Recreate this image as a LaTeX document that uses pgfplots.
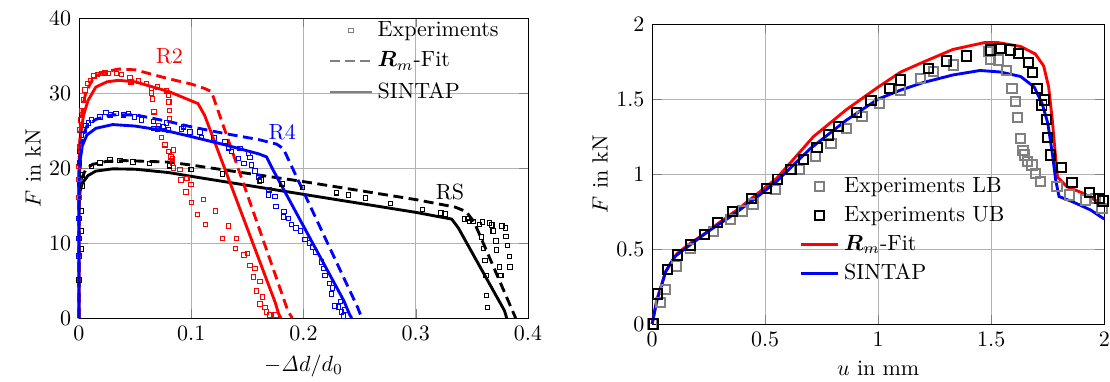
\documentclass[border=0pt]{standalone}
\usepackage{pgfplots}
\pgfplotsset{compat=1.18}
\usepackage{amsmath}
\usepackage{bm}
\begin{document}
\begin{tikzpicture}
\path[use as bounding box] (0,0) rectangle (504.5pt,173.2pt);
\begin{axis}[
  at={(35.9pt,28.6pt)}, anchor=south west,
  width=204.1pt, height=136.4pt, scale only axis,
  xmin=0, xmax=0.4, ymin=0, ymax=40,
  xtick={0,0.1,0.2,0.3,0.4}, ytick={0,10,20,30,40},
  grid=major, major grid style={black!30},
  xlabel={$-\mathit{\Delta} d/d_0$}, ylabel={$F$ in kN},
  ylabel shift=-3pt,
  clip=false,
  legend cell align=left,
  legend image code/.code={\draw[#1] (0cm,0cm) -- (0.68cm,0cm);},
  legend style={draw=none, fill=none, row sep=1.6pt, at={(0.96,1.02)}, anchor=north east},
]
\addlegendimage{only marks, mark=square, gray, mark size=1pt, legend image code/.code={\draw[only marks, mark=square, gray, mark size=1pt] plot coordinates {(0.34cm,0cm)};}}
\addlegendentry{Experiments}
\addlegendimage{gray, line width=1pt, dash pattern=on 4.5pt off 2.5pt}
\addlegendentry{$\bm{R}_m$-Fit}
\addlegendimage{gray, line width=1pt}
\addlegendentry{SINTAP}
% black RS
\addplot[forget plot, black, line width=1.3pt, dash pattern=on 4.5pt off 2.5pt] coordinates {
(0,0) (0,16) (0.002,18.5) (0.006,19.8) (0.012,20.5) (0.025,20.9) (0.04,21.0) (0.06,20.9) (0.08,20.8) (0.1,20.4) (0.15,19.3) (0.2,18.2) (0.25,17.0) (0.3,15.8) (0.335,14.8) (0.345,14.2) (0.352,12.8) (0.389,0)};
\addplot[forget plot, black, line width=1.3pt] coordinates {
(0,0) (0,15) (0.001,17) (0.003,18) (0.008,19) (0.015,19.6) (0.03,19.9) (0.05,19.85) (0.08,19.4) (0.1,18.9) (0.15,17.7) (0.2,16.5) (0.25,15.3) (0.3,14.1) (0.332,13.2) (0.338,12) (0.379,1) (0.381,0)};
% red R2
\addplot[forget plot, red, line width=1.3pt, dash pattern=on 4.5pt off 2.5pt] coordinates {
(0,0) (0,20) (0.001,25) (0.003,28) (0.006,30) (0.012,31.8) (0.02,32.7) (0.035,33.2) (0.05,33.1) (0.08,31.9) (0.1,31.2) (0.112,30.6) (0.118,30.2) (0.124,27.6) (0.186,1) (0.19,0)};
\addplot[forget plot, red, line width=1.3pt] coordinates {
(0,0) (0,20) (0.001,24) (0.004,27) (0.008,29) (0.015,30.8) (0.025,31.5) (0.035,31.7) (0.05,31.5) (0.08,30.2) (0.106,28.6) (0.112,27) (0.175,2) (0.178,0.5) (0.18,0)};
% blue R4
\addplot[forget plot, blue, line width=1.3pt, dash pattern=on 4.5pt off 2.5pt] coordinates {
(0,0) (0,19) (0.001,22) (0.003,24) (0.007,25.6) (0.015,26.5) (0.03,27.1) (0.05,27.1) (0.08,26.2) (0.1,25.5) (0.13,24.6) (0.16,23.8) (0.176,23.2) (0.182,22.6) (0.187,21) (0.248,1.5) (0.252,0)};
\addplot[forget plot, blue, line width=1.3pt] coordinates {
(0,0) (0,18) (0.001,21) (0.003,23) (0.007,24.4) (0.015,25.3) (0.03,25.8) (0.05,25.6) (0.08,24.9) (0.1,24.2) (0.13,23.1) (0.16,21.9) (0.167,21.5) (0.172,20) (0.236,2.3) (0.241,0.5) (0.243,0)};
% experiments
\addplot[forget plot, only marks, mark=square, red, mark size=1pt, mark options={line width=0.5pt}] table {
x y
0 16.1
0 18.5
0 20.2
0.0005 22.8
0.0005 25.1
0.0015 26.4
0.0024 27.7
0.0038 29.1
0.0053 30.4
0.0074 31.3
0.0104 31.7
0.0134 32.3
0.0163 32.5
0.0202 32.6
0.0232 32.7
0.026 32.6
0.0336 32.6
0.038 32.5
0.0454 32.1
0.0463 31.5
0.0528 31.6
0.0603 31.3
0.0648 30.6
0.0698 30.8
0.0648 30.0
0.0656 29.2
0.078 30.3
0.0796 29.7
0.080 28.8
0.0805 27.7
0.0668 27.5
0.0707 25.7
0.0736 24.1
0.0766 23.1
0.080 22.2
0.082 21.5
0.0831 20.6
0.084 20.0
0.0805 26.6
0.084 22.4
0.0834 21.3
0.090 19.8
0.0909 18.4
0.096 18.6
0.0998 17.8
0.0953 16.8
0.1004 15.4
0.1107 15.8
0.1054 13.8
0.1218 14.3
0.1129 12.5
0.133 12.3
0.1277 10.6
0.1405 10.6
0.1396 9.3
0.147 8.4
0.150 8.6
0.1523 7.0
0.1568 6.6
0.1553 5.5
0.1612 4.9
0.1583 3.6
0.1636 2.8
0.1612 1.9
0.1657 1.4
0.1672 0.8
0.170 0.4
0.1755 0.4
};
\addplot[forget plot, only marks, mark=square, blue, mark size=1pt, mark options={line width=0.5pt}] table {
x y
0 8.3
0 10.6
0 13.3
0.0005 17.8
0.0005 20.7
0.0005 22.2
0.0024 23.3
0.0024 24.4
0.0045 25.1
0.0062 25.7
0.0083 26.0
0.0113 26.4
0.0187 26.8
0.024 27.4
0.028 27.1
0.033 27.3
0.0395 27.1
0.0439 27.3
0.0493 26.8
0.0558 26.4
0.0662 26.2
0.0662 25.3
0.070 25.2
0.075 25.5
0.078 26.0
0.0796 25.1
0.0915 25.2
0.0989 24.8
0.1078 24.8
0.1093 24.1
0.1203 24.0
0.093 25.5
0.130 23.5
0.133 22.7
0.136 22.2
0.1434 22.6
0.1508 22.0
0.1419 21.3
0.147 20.6
0.1523 21.4
0.1538 20.4
0.1568 19.6
0.1597 18.8
0.1606 18.3
0.1693 17.1
0.1687 16.4
0.1746 16.2
0.1755 14.9
0.1826 14.2
0.182 13.5
0.1865 13.3
0.1895 12.5
0.1933 12.0
0.1975 11.6
0.2013 10.5
0.2052 10.0
0.2081 9.5
0.2109 8.8
0.2162 7.5
0.2177 6.6
0.2192 5.7
0.223 4.6
0.226 4.0
0.2251 3.2
0.228 1.6
0.231 1.5
0.2331 2.2
0.234 0.8
0.237 1.1
0.2355 0.3
};
\addplot[forget plot, only marks, mark=square, black, mark size=1pt, mark options={line width=0.5pt}] table {
x y
0 5.1
0.0024 9.2
0.0024 11.6
0.0024 14.3
0.0033 17.6
0.0033 19.1
0.011 20.2
0.0187 20.7
0.0276 21.1
0.0365 21.0
0.048 20.8
0.063 20.6
0.0805 20.3
0.100 19.8
0.1277 19.2
0.162 18.4
0.181 17.9
0.199 17.4
0.2296 16.7
0.240 16.4
0.2554 16.0
0.2777 15.3
0.306 14.5
0.3225 14.0
0.326 13.9
0.3433 13.2
0.346 13.3
0.3477 12.9
0.351 12.9
0.3566 12.5
0.3593 12.8
0.3655 12.7
0.3677 12.4
0.3766 12.3
0.380 12.0
0.369 11.6
0.3587 10.8
0.3804 10.9
0.3715 10.3
0.3602 9.3
0.3721 9.1
0.3816 9.7
0.3617 7.7
0.3834 8.2
0.3745 6.8
0.384 6.8
0.3626 5.7
0.3757 5.7
0.3632 3.0
0.3638 1.4
};
\node[red] at (axis cs:0.0805,34.9) {R2};
\node[blue] at (axis cs:0.181,24.8) {R4};
\node[black] at (axis cs:0.3305,16.8) {RS};
\end{axis}
\begin{axis}[
  at={(296.4pt,25.9pt)}, anchor=south west,
  width=205.5pt, height=136.4pt, scale only axis,
  xmin=0, xmax=2, ymin=0, ymax=2,
  xtick={0,0.5,1,1.5,2}, ytick={0,0.5,1,1.5,2},
  grid=major, major grid style={black!30},
  xlabel={$u$ in mm}, ylabel={$F$ in kN},
  ylabel shift=-3pt,
  clip=false,
  legend cell align=left,
  legend style={draw=none, fill=none, row sep=0.8pt, at={(0.31,0.52)}, anchor=north west},
]
\addplot[only marks, mark=square, gray, mark size=2.1pt, mark options={line width=0.9pt}] table {
x y
0 0
0.038 0.142
0.058 0.231
0.109 0.387
0.168 0.504
0.271 0.616
0.348 0.698
0.401 0.753
0.446 0.80
0.544 0.895
0.652 1.031
0.721 1.116
0.791 1.204
0.861 1.304
0.928 1.382
1.007 1.471
1.097 1.56
1.186 1.638
1.245 1.682
1.333 1.727
1.488 1.816
1.496 1.765
1.532 1.76
1.566 1.689
1.592 1.571
1.606 1.482
1.616 1.378
1.628 1.238
1.64 1.156
1.646 1.127
1.661 1.082
1.68 1.06
1.695 1.004
1.717 0.949
1.791 0.915
1.846 0.86
1.916 0.827
1.96 0.838
1.99 0.771
};
\addlegendentry{Experiments LB}
\addplot[only marks, mark=square, black, mark size=2.1pt, mark options={line width=0.9pt}] table {
x y
0.006 0
0.023 0.2
0.069 0.364
0.112 0.46
0.171 0.527
0.230 0.598
0.289 0.675
0.357 0.749
0.438 0.838
0.507 0.904
0.554 0.966
0.614 1.031
0.67 1.098
0.729 1.178
0.780 1.26
0.824 1.316
0.903 1.409
0.968 1.489
1.05 1.571
1.097 1.627
1.223 1.704
1.301 1.753
1.392 1.787
1.496 1.827
1.54 1.838
1.584 1.827
1.621 1.804
1.665 1.742
1.684 1.676
1.702 1.571
1.735 1.493
1.724 1.46
1.746 1.364
1.749 1.244
1.761 1.127
1.81 1.044
1.857 0.942
1.935 0.876
1.978 0.838
1.994 0.82
};
\addlegendentry{Experiments UB}
\addplot[red, line width=1.3pt] coordinates {
(0,0) (0.02,0.16) (0.06,0.35) (0.11,0.47) (0.17,0.54) (0.23,0.6) (0.3,0.68) (0.375,0.76) (0.45,0.85) (0.55,0.97) (0.714,1.25) (0.86,1.43) (1.0,1.58) (1.1,1.68) (1.19,1.74) (1.33,1.83) (1.47,1.876) (1.53,1.876) (1.63,1.85) (1.695,1.80) (1.732,1.72) (1.754,1.58) (1.77,1.36) (1.783,1.14) (1.793,0.98) (1.835,0.915) (1.91,0.87) (2.0,0.79)};
\addlegendentry{$\bm{R}_m$-Fit}
\addplot[blue, line width=1.3pt] coordinates {
(0,0) (0.02,0.15) (0.06,0.35) (0.1,0.45) (0.17,0.53) (0.25,0.62) (0.35,0.72) (0.45,0.83) (0.55,0.95) (0.7,1.17) (0.86,1.36) (1.0,1.5) (1.1,1.56) (1.2,1.61) (1.33,1.66) (1.45,1.69) (1.54,1.68) (1.63,1.65) (1.69,1.58) (1.725,1.47) (1.75,1.34) (1.77,1.14) (1.785,0.96) (1.8,0.85) (1.86,0.815) (1.94,0.76) (2.0,0.70)};
\addlegendentry{SINTAP}
\end{axis}
\end{tikzpicture}
\end{document}
